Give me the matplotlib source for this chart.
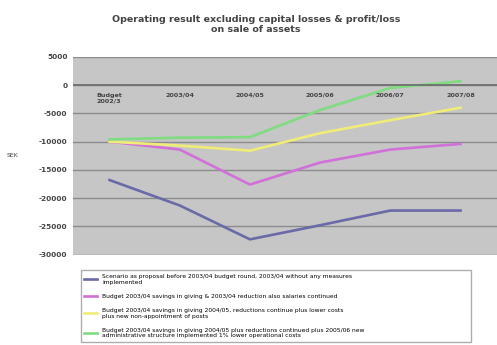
import matplotlib
matplotlib.use("Agg")
import matplotlib.pyplot as plt
import numpy as np

categories = ["Budget\n2002/3", "2003/04", "2004/05", "2005/06", "2006/07", "2007/08"]

scenario_before = [-16800, -21300, -27300, -24800, -22200, -22200]
savings_continued = [-10000, -11400, -17600, -13700, -11400, -10400]
savings_plus_lower = [-10000, -10700, -11600, -8500, -6200, -4000]
savings_new_measures = [-9600, -9300, -9200, -4400, -500, 700]

series_labels = [
    "Scenario as proposal before 2003/04 budget round, 2003/04 without any measures\nimplemented",
    "Budget 2003/04 savings in giving & 2003/04 reduction also salaries continued",
    "Budget 2003/04 savings in giving 2004/05, reductions continue plus lower costs\nplus new non-appointment of posts",
    "Budget 2003/04 savings in giving 2004/05 plus reductions continued plus 2005/06 new\nadministrative structure implemented 1% lower operational costs",
]
series_colors = ["#6a6aa8", "#d070d8", "#f0ec78", "#80dc80"]

fig = plt.figure(figsize=(4.97, 3.45), dpi=100)
ax = fig.add_axes([0.147, 0.262, 0.853, 0.573])

x = np.arange(len(categories))
for vals, lab, col in zip([scenario_before, savings_continued, savings_plus_lower, savings_new_measures],
                          series_labels, series_colors):
    ax.plot(x, vals, color=col, lw=1.9, label=lab)

ax.set_facecolor("#c6c6c6")
ax.set_xlim(-0.52, len(categories) - 0.48)
ax.set_ylim(-30000, 5000)
ax.set_yticks(np.arange(-30000, 5001, 5000))
ax.set_yticklabels([str(v) for v in range(-30000, 5001, 5000)], fontsize=5.3, fontweight="bold", color="#444444")
ax.yaxis.grid(True, color="#8c8c8c", lw=1.0)
ax.axhline(0, color="#707070", lw=1.3)
ax.set_axisbelow(True)
ax.set_xticks([])
ax.tick_params(axis="y", length=0, pad=4)
for s in ax.spines.values():
    s.set_visible(False)

for i, c in enumerate(categories):
    ax.text(i, -1300, c, fontsize=4.6, fontweight="bold", color="#444444",
            ha="center", va="top", multialignment="left")

ax.set_ylabel("SEK", fontsize=4.5, rotation=0, labelpad=19, va="center", color="#444444")

fig.text(0.515, 0.93, "Operating result excluding capital losses & profit/loss\non sale of assets",
         ha="center", va="center", fontsize=6.8, fontweight="bold", color="#444444", linespacing=1.15)

fig.legend(loc="lower left", bbox_to_anchor=(0.16, 0.005, 0.79, 0.23), mode="expand",
           fontsize=4.3, frameon=True, fancybox=False, edgecolor="#999999",
           handlelength=2.2, labelspacing=1.5, borderaxespad=0.2, borderpad=0.6)

fig.savefig("out.png", dpi=100)
